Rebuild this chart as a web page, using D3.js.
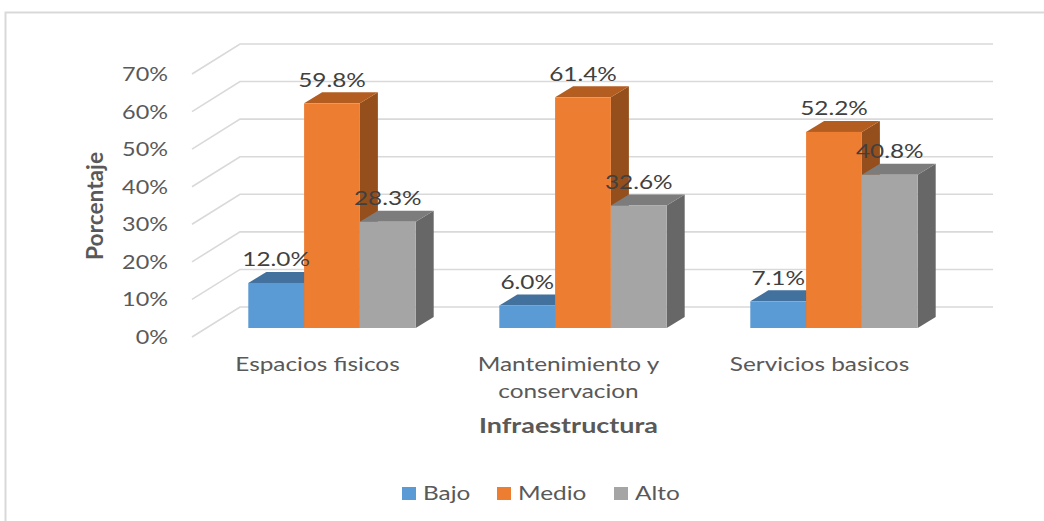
<!DOCTYPE html>
<html><head><meta charset="utf-8">
<script src="https://cdn.jsdelivr.net/npm/d3@7/dist/d3.min.js"></script>
<style>html,body{margin:0;padding:0;background:#fff}svg{display:block}text{font-family:Lato,"DejaVu Sans",sans-serif}</style>
</head><body><svg id="c" width="1044" height="521"></svg>
<script>
const categories = ["Espacios fisicos", "Mantenimiento y conservacion", "Servicios basicos"];
const seriesNames = ["Bajo", "Medio", "Alto"];
const bajo = [0.120, 0.060, 0.071];
const medio = [0.598, 0.614, 0.522];
const alto = [0.283, 0.326, 0.408];
const seriesValues = [bajo, medio, alto];
const yTicks = [0, 0.1, 0.2, 0.3, 0.4, 0.5, 0.6, 0.7];
const categoryLines = [["Espacios fisicos"], ["Mantenimiento y", "conservacion"], ["Servicios basicos"]];

const front = ["#5b9bd5", "#ed7d31", "#a5a5a5"];
const topC = ["#41719c", "#b35e20", "#7c7c7c"];
const side = ["#41719c", "#954f1c", "#676767"];
const svg = d3.select("#c");

// stretch text horizontally to mimic the reference's widened type
function stretch(sel, k) {
  const w = sel.node().getComputedTextLength();
  return sel.attr("textLength", w * k).attr("lengthAdjust", "spacingAndGlyphs");
}

svg.append("path").attr("d", "M5.5,521V12.5H1044").attr("fill", "none").attr("stroke", "#d9d9d9").attr("stroke-width", 2);

const y = d3.scaleLinear().domain([0, 0.7]).range([328, 65]);
const x0 = d3.scaleBand().domain(categories).range([192, 945]);
const barW = 55.8;
const barShift = 14.5;
const dx = 18, dy = 11;
const wdx = 48, wdy = 30;
const wallY = d => y(d) + 9;

yTicks.forEach(t => {
  const fy = wallY(t), by = fy - wdy;
  svg.append("path").attr("d", `M192,${fy}L${192 + wdx},${by}H993`).attr("fill", "none").attr("stroke", "#d9d9d9").attr("stroke-width", 1.6);
  stretch(svg.append("text").attr("x", 168).attr("y", fy + 7).attr("text-anchor", "end")
    .attr("font-size", 19.5).attr("fill", "#595959").text(d3.format(".0%")(t)), 1.2);
});

const labels = [];
categories.forEach((c, i) => {
  const g = svg.append("g");
  const center = x0(c) + x0.bandwidth() / 2;
  const start = center + barShift - barW * 1.5;
  seriesValues.forEach((vals, s) => {
    const l = start + s * barW, r = l + barW, t = y(vals[i]), b = y(0);
    g.append("path").attr("d", `M${r},${t}L${r + dx},${t - dy}V${b - dy}L${r},${b}Z`).attr("fill", side[s]);
    g.append("path").attr("d", `M${l},${t}L${l + dx},${t - dy}H${r + dx}L${r},${t}Z`).attr("fill", topC[s]);
    g.append("rect").attr("x", l).attr("y", t).attr("width", barW).attr("height", b - t).attr("fill", front[s]);
    labels.push({x: l + barW / 2, y: t - 16.5, v: vals[i]});
  });
  categoryLines[i].forEach((line, k) => {
    stretch(svg.append("text").attr("x", center).attr("y", 371 + k * 27)
      .attr("text-anchor", "middle").attr("font-size", 19.5).attr("fill", "#595959").text(line), 1.25);
  });
});
labels.forEach(d => {
  stretch(svg.append("text").attr("x", d.x).attr("y", d.y).attr("text-anchor", "middle")
    .attr("font-size", 19.5).attr("fill", "#404040").text(d3.format(".1%")(d.v)), 1.25);
});

svg.append("text").attr("x", 568.5).attr("y", 433).attr("text-anchor", "middle")
  .attr("font-size", 20).attr("font-weight", "bold").attr("fill", "#595959")
  .attr("textLength", 179).attr("lengthAdjust", "spacingAndGlyphs").text("Infraestructura");
svg.append("text").attr("transform", "translate(103,206) rotate(-90)").attr("text-anchor", "middle")
  .attr("font-size", 23).attr("font-weight", "bold").attr("fill", "#595959")
  .attr("textLength", 108).attr("lengthAdjust", "spacingAndGlyphs").text("Porcentaje");

const legendX = [402, 497, 614];
seriesNames.forEach((n, s) => {
  svg.append("rect").attr("x", legendX[s]).attr("y", 487).attr("width", 14).attr("height", 13).attr("fill", front[s]);
  stretch(svg.append("text").attr("x", legendX[s] + 21).attr("y", 500).attr("font-size", 19.5).attr("fill", "#595959").text(n), 1.25);
});
</script></body></html>
